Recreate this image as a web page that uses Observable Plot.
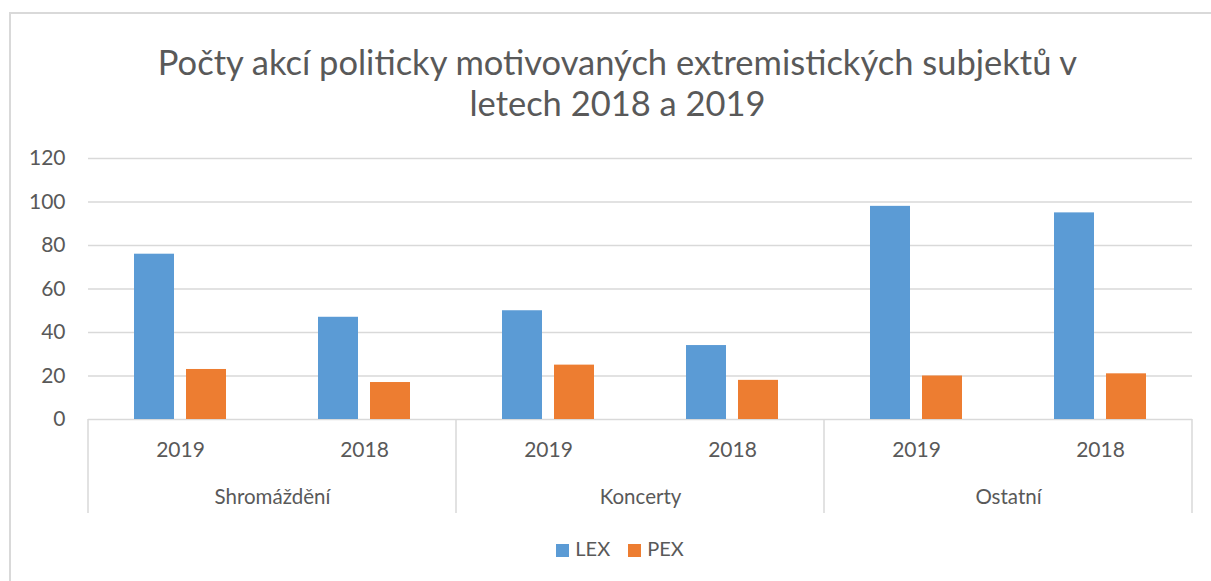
<!DOCTYPE html>
<html>
<head>
<meta charset="utf-8">
<script src="https://cdn.jsdelivr.net/npm/d3@7"></script>
<script src="https://cdn.jsdelivr.net/npm/@observablehq/plot@0.6"></script>
<style>
  html, body { margin: 0; padding: 0; background: #fff; }
  body { width: 1211px; height: 581px; position: relative; overflow: hidden; font-family: Lato, "Open Sans", sans-serif; color: #595959; }
  #border { position: absolute; left: 9px; top: 12px; width: 1260px; height: 640px; border: 2px solid #d9d9d9; box-sizing: border-box; }
  #title { position: absolute; left: 0; top: 41px; width: 1235px; text-align: center; font-size: 34.5px; line-height: 41px; color: #595959; }
  #chart { position: absolute; left: 0; top: 140px; }
  #legend { position: absolute; left: 0; top: 536px; width: 1240px; text-align: center; font-size: 20px; color: #595959; }
  .sw { display: inline-block; width: 13px; height: 13px; margin-right: 6px; vertical-align: -1px; }
  .item { display: inline-block; margin: 0 9px; }
</style>
</head>
<body>
<div id="border"></div>
<div id="title">Počty akcí politicky motivovaných extremistických subjektů v<br>letech 2018 a 2019</div>
<div id="chart"></div>
<div id="legend"></div>
<script>
const categories = ["Shromáždění", "Koncerty", "Ostatní"];
const years = ["2019", "2018"];
const series = ["LEX", "PEX"];
const lexValues = [76, 47, 50, 34, 98, 95];
const pexValues = [23, 17, 25, 18, 20, 21];
const yTicks = [0, 20, 40, 60, 80, 100, 120];
const colors = ["#5B9BD5", "#ED7D31"];

const groups = [];
categories.forEach((c, i) => years.forEach((y, j) => groups.push({category: c, year: y, key: c + "|" + y, idx: i * 2 + j})));
const rows = [];
groups.forEach(g => {
  rows.push({key: g.key, series: "LEX", value: lexValues[g.idx]});
  rows.push({key: g.key, series: "PEX", value: pexValues[g.idx]});
});
const catRows = categories.map(c => ({category: c, key: c + "|" + years[0]}));

const W = 1211, H = 390;
const plot = Plot.plot({
  width: W, height: H,
  marginLeft: 87, marginRight: 19, marginTop: 18, marginBottom: 111,
  style: {fontFamily: "Lato, 'Open Sans', sans-serif", color: "#595959", background: "transparent"},
  fx: {domain: groups.map(g => g.key), padding: 0, axis: null},
  x: {domain: series, paddingInner: 0.226, paddingOuter: 0.85, axis: null},
  y: {domain: [0, 120], axis: null},
  color: {domain: series, range: colors},
  marks: [
    Plot.gridY(yTicks, {stroke: "#d9d9d9", strokeOpacity: 1, strokeWidth: 1.5}),
    Plot.barY(rows, {fx: "key", x: "series", y: "value", fill: "series"}),
    Plot.axisY(yTicks, {anchor: "left", tickSize: 0, tickPadding: 23, fontSize: 21, label: null, facetAnchor: "left"}),
    Plot.text(groups, {fx: "key", frameAnchor: "bottom", dy: 37, text: "year", fontSize: 21, fill: "#595959"}),
    Plot.text(catRows, {fx: "key", frameAnchor: "bottom-right", dy: 84, text: "category", textAnchor: "middle", fontSize: 20.5, fill: "#595959"})
  ]
});
document.getElementById("chart").appendChild(plot);

// category divider lines below the axis, placed with the plot's own scales
const fx = plot.scale("fx"), ys = plot.scale("y");
const svg = d3.select(plot.tagName.toLowerCase() === "svg" ? plot : plot.querySelector("svg"));
const y0 = ys.apply(0);
const bw = fx.bandwidth;
const boundaries = categories.map(c => fx.apply(c + "|" + years[0]));
boundaries.push(fx.apply(categories[categories.length - 1] + "|" + years[1]) + bw);
svg.append("g").selectAll("line").data(boundaries).join("line")
  .attr("x1", d => d).attr("x2", d => d)
  .attr("y1", y0).attr("y2", y0 + 94)
  .attr("stroke", "#d9d9d9").attr("stroke-width", 1.5);

const legend = document.getElementById("legend");
series.forEach((s, i) => {
  const it = document.createElement("span");
  it.className = "item";
  it.innerHTML = `<span class="sw" style="background:${colors[i]}"></span>${s}`;
  legend.appendChild(it);
});
</script>
</body>
</html>
